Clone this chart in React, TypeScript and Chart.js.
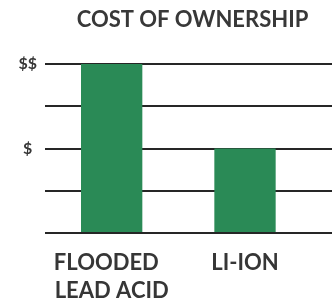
import React, { useEffect, useRef } from 'react';
import { Chart, registerables } from 'chart.js';

Chart.register(...registerables);

// Data
const categories: (string | string[])[] = [['FLOODED  ', 'LEAD ACID'], ['LI-ION'], ['']];
const costValues: (number | null)[] = [4, 2, null];
const yTickValues = [0, 1, 2, 3, 4];
const yTickLabels = ['', '', '$', '', '$$'];
const chartTitle = 'COST OF OWNERSHIP';

const CANVAS_W = 505;
const CANVAS_H = 303;
const OFFSET_X = 60;

export default function App() {
  const ref = useRef<HTMLCanvasElement | null>(null);

  useEffect(() => {
    if (!ref.current) return;
    const chart = new Chart(ref.current, {
      type: 'bar',
      data: {
        labels: categories,
        datasets: [
          {
            data: costValues,
            backgroundColor: '#2a8a56',
            borderWidth: 0,
            categoryPercentage: 1,
            barPercentage: 0.46,
          },
        ],
      },
      options: {
        responsive: false,
        animation: false,
        devicePixelRatio: 1,
        layout: { padding: 0 },
        plugins: {
          legend: { display: false },
          tooltip: { enabled: false },
          title: {
            display: true,
            text: chartTitle,
            color: '#383838',
            font: { family: 'Lato', size: 22, weight: 'bold', lineHeight: 1.2 },
            padding: { top: 6.5, bottom: 31.1 },
          },
        },
        scales: {
          x: {
            type: 'category',
            grid: { display: false, drawTicks: false },
            border: { display: false },
            ticks: {
              color: '#363636',
              font: { family: 'Lato', size: 22, weight: 'bold', lineHeight: 28 / 22 },
              padding: 16,
              maxRotation: 0,
              minRotation: 0,
              autoSkip: false,
            },
            afterFit: (scale: any) => {
              scale.height = 70;
            },
          },
          y: {
            min: 0,
            max: 4,
            afterBuildTicks: (scale: any) => {
              scale.ticks = yTickValues.map((v) => ({ value: v }));
            },
            grid: { color: '#262626', lineWidth: 2, drawTicks: false },
            border: { display: false },
            ticks: {
              color: '#363636',
              font: { family: 'Lato', size: 16, weight: 'bold' },
              padding: 8,
              crossAlign: 'center',
              callback: (v: any) => yTickLabels[yTickValues.indexOf(Number(v))] ?? '',
            },
            afterFit: (scale: any) => {
              scale.width = 105;
            },
          },
        },
      },
    } as any);
    return () => chart.destroy();
  }, []);

  return (
    <div
      style={{
        position: 'fixed',
        left: 0,
        top: 0,
        width: 332,
        height: 303,
        overflow: 'hidden',
        background: '#ffffff',
      }}
    >
      <canvas
        ref={ref}
        width={CANVAS_W}
        height={CANVAS_H}
        style={{ position: 'absolute', left: -OFFSET_X, top: 0 }}
      />
    </div>
  );
}
